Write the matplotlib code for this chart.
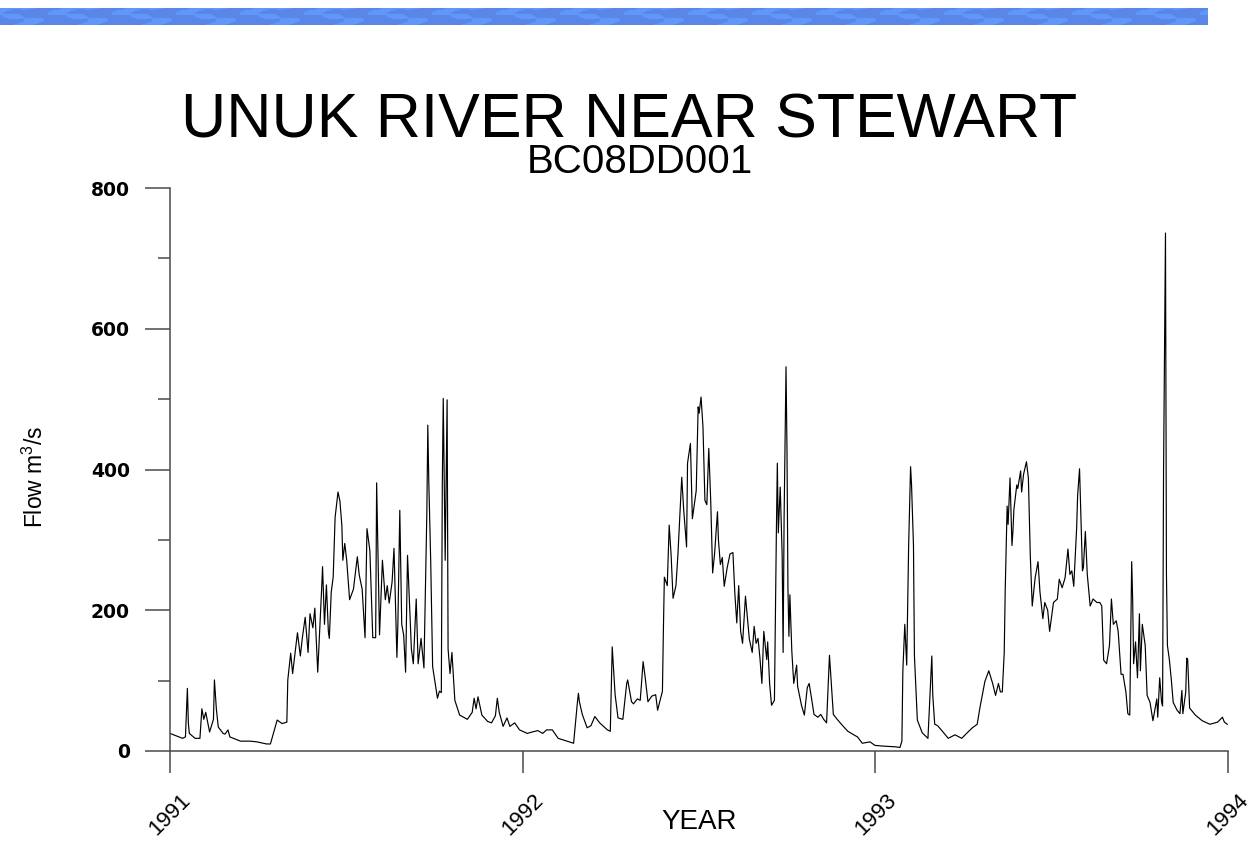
import numpy as np
import matplotlib
matplotlib.use("Agg")
import matplotlib.pyplot as plt
from matplotlib.ticker import FixedLocator, MultipleLocator

# Daily flow record, Unuk River near Stewart (BC08DD001).
# Days are counted from 1 January 1991; flows in m3/s.
days_1991 = [0, 13, 16, 18, 19, 20, 26, 31, 33, 35, 37, 41, 45, 46, 48, 50, 55, 57, 60, 62,
             73, 83, 90, 100, 104, 111, 116, 121, 122, 125, 127, 132, 135, 137, 140, 143,
             145, 148, 150, 153, 157, 158, 160, 162, 164, 165, 167, 169, 171, 174, 176,
             178, 179, 181, 183, 186, 190, 194, 196, 199, 202, 204, 207, 210, 213, 214,
             217, 220, 223, 225, 227, 230, 232, 235, 236, 238, 240, 242, 244, 246, 250,
             252, 255, 257, 260, 263, 266, 267, 268, 270, 272, 277, 279, 281, 282, 283,
             285, 287, 288, 290, 292, 295, 300, 308, 313, 315, 317, 319, 323, 329, 333,
             337, 339, 341, 345, 349, 352, 357, 362]
flow_1991 = [25, 18, 20, 89, 40, 25, 18, 18, 60, 45, 55, 27, 45, 101, 60, 34, 25, 24, 30, 20,
             14, 14, 13, 10, 10, 44, 39, 41, 101, 139, 110, 168, 135, 160, 190, 140,
             195, 175, 203, 112, 229, 262, 180, 236, 170, 160, 226, 247, 332, 368, 355,
             320, 271, 295, 271, 215, 230, 276, 250, 230, 161, 316, 285, 161, 161, 381,
             165, 271, 215, 235, 210, 240, 288, 133, 180, 342, 180, 165, 112, 278, 145,
             124, 216, 124, 160, 118, 338, 463, 385, 270, 120, 75, 85, 83, 375, 501,
             271, 499, 145, 110, 140, 72, 51, 45, 55, 75, 60, 77, 51, 42, 40,
             50, 75, 55, 35, 47, 35, 40, 30]

days_1992 = [370, 375, 381, 386, 390, 396, 402, 409, 418, 422, 423, 424, 427, 432, 436, 440,
             445, 453, 456, 458, 459, 461, 464, 469, 473, 474, 478, 480, 484, 487, 490,
             492, 495, 499, 503, 505, 510, 511, 512, 515, 517, 519, 521, 524, 526, 529,
             530, 532, 535, 536, 539, 541, 543, 545, 547, 548, 550, 552, 554, 556, 558,
             560, 562, 564, 567, 568, 570, 572, 574, 577, 580, 583, 585, 587, 589, 591,
             593, 596, 598, 600, 603, 605, 607, 609, 611, 613, 615, 618, 619, 621, 623,
             626, 628, 629, 630, 632, 634, 635, 636, 638, 639, 640, 641, 642, 644, 646,
             649, 650, 654, 657, 660, 662, 665, 667, 671, 674, 677, 680, 683, 685, 687,
             691, 696, 702, 712, 717, 725, 730]
flow_1992 = [25, 27, 29, 25, 30, 30, 18, 15, 11, 70, 82, 70, 52, 33, 36, 49,
             40, 30, 28, 148, 125, 80, 47, 45, 96, 101, 70, 67, 74, 72, 127,
             106, 70, 78, 80, 58, 85, 172, 247, 235, 321, 278, 217, 235, 278, 361,
             389, 343, 290, 409, 437, 330, 350, 370, 489, 480, 503, 460, 356, 350, 430,
             356, 253, 280, 340, 300, 265, 275, 234, 260, 280, 282, 224, 182, 235, 170,
             153, 220, 190, 159, 140, 177, 153, 160, 132, 96, 170, 130, 155, 96, 65,
             72, 310, 409, 310, 375, 278, 140, 330, 546, 428, 230, 163, 222, 142, 96,
             122, 92, 65, 51, 90, 96, 70, 52, 48, 52, 45, 40, 136, 95, 52,
             45, 37, 28, 20, 11, 13, 8]

days_1993 = [738, 751, 756, 758, 759, 761, 763, 765, 767, 768, 770, 771, 774, 779, 785, 789,
             790, 792, 795, 800, 806, 813, 820, 825, 831, 836, 839, 844, 848, 852, 855,
             858, 860, 862, 864, 865, 867, 868, 870, 872, 873, 874, 877, 878, 881, 882,
             884, 887, 889, 891, 893, 896, 899, 901, 904, 906, 909, 911, 915, 919, 921,
             924, 927, 930, 932, 934, 936, 939, 940, 942, 945, 946, 948, 950, 953, 956,
             960, 963, 965, 967, 970, 973, 975, 977, 980, 982, 985, 987, 990, 992, 994,
             996, 997, 998, 1000, 1002, 1004, 1005, 1007, 1008, 1010, 1012, 1015, 1018,
             1022, 1023, 1025, 1027, 1028, 1029, 1031, 1032, 1033, 1035, 1037, 1039,
             1043, 1046, 1048, 1049, 1052, 1053, 1054, 1056, 1062, 1069, 1077, 1085,
             1090, 1092, 1095]
flow_1993 = [7, 6, 5, 14, 114, 180, 122, 292, 404, 378, 292, 135, 44, 26, 18, 135,
             79, 38, 36, 28, 18, 23, 18, 25, 33, 38, 63, 99, 114, 96, 79,
             96, 84, 84, 140, 228, 348, 322, 388, 292, 312, 343, 378, 373, 398, 368,
             393, 411, 388, 277, 206, 246, 269, 226, 188, 211, 200, 170, 211, 216, 244,
             232, 246, 287, 251, 256, 234, 317, 363, 401, 256, 261, 312, 251, 206, 216,
             211, 211, 206, 129, 124, 150, 216, 180, 185, 170, 109, 109, 84, 53, 51,
             269, 216, 124, 155, 104, 195, 114, 180, 170, 150, 79, 69, 43,
             74, 48, 104, 69, 64, 398, 736, 251, 150, 130, 102, 69,
             58, 53, 86, 53, 84, 132, 130, 61, 51, 43, 38, 41,
             48, 41, 38]

year_ticks = [1991, 1992, 1993, 1994]
year_labels = ["1991", "1992", "1993", "1994"]
flow_ticks = [0, 200, 400, 600, 800]

title_text = "UNUK RIVER NEAR STEWART"
station_text = "BC08DD001"

plt.rcParams["mathtext.fontset"] = "custom"
plt.rcParams["mathtext.rm"] = "Liberation Sans"
plt.rcParams["mathtext.it"] = "Liberation Sans:italic"

W, H = 1259, 861
fig = plt.figure(figsize=(W / 100, H / 100), dpi=100)
fig.patch.set_facecolor("white")

# decorative blue banner along the top edge
band = fig.add_axes([0, 1 - 25 / H, 1208 / W, 17 / H])
yy, xx = np.mgrid[0:17, 0:1208]
wave = np.sin(2 * np.pi * xx / 64.0 + 1.8 * np.sin(2 * np.pi * yy / 17.0)) \
    + 0.6 * np.cos(2 * np.pi * (xx + 2.5 * yy) / 32.0)
dark = np.array([0x5a, 0x86, 0xe8]) / 255.0
light = np.array([0x5f, 0x97, 0xfb]) / 255.0
mask = (wave > 0.35)[..., None]
band.imshow(np.where(mask, light, dark), aspect="auto", interpolation="nearest")
band.axis("off")

fig.text(0.5, 1 - 137 / H, title_text, ha="center", va="baseline",
         fontsize=45, family="Liberation Sans")
fig.text(640 / W, 1 - 173 / H, station_text, ha="center", va="baseline",
         fontsize=29, family="Liberation Sans")

ax = fig.add_axes([170 / W, 1 - 751 / H, 1058 / W, 563 / H])
days = np.array(days_1991 + days_1992 + days_1993, dtype=float)
flow = np.array(flow_1991 + flow_1992 + flow_1993, dtype=float)
years = 1991 + days / 365.25
ax.plot(years, flow, color="black", lw=0.85)

ax.set_xlim(1991, 1994)
ax.set_ylim(0, 800)
for side in ("top", "right"):
    ax.spines[side].set_visible(False)
for side in ("left", "bottom"):
    ax.spines[side].set_color("#4a4a4a")
    ax.spines[side].set_linewidth(1.1)

ax.yaxis.set_major_locator(FixedLocator(flow_ticks))
ax.yaxis.set_minor_locator(MultipleLocator(100))
ax.set_yticklabels([str(v) for v in flow_ticks], fontsize=13.5,
                   family="DejaVu Sans", fontweight="bold")
ax.tick_params(axis="y", which="major", direction="out", length=18, width=1.1,
               color="#4a4a4a", pad=11)
ax.tick_params(axis="y", which="minor", direction="out", length=8.5, width=1.1,
               color="#4a4a4a")

ax.xaxis.set_major_locator(FixedLocator(year_ticks))
ax.set_xticklabels(year_labels, rotation=45, ha="center", fontsize=16,
                   family="Liberation Sans")
ax.tick_params(axis="x", which="major", direction="out", length=16, width=1.1,
               color="#4a4a4a", pad=12)

ax.set_ylabel(r"Flow m$^{\mathregular{3}}$/s", fontsize=16.5, family="Liberation Sans")
ax.yaxis.set_label_coords(-0.115, 0.487)
fig.text(699 / W, 1 - 822 / H, "YEAR", ha="center", va="center",
         fontsize=20, family="Liberation Sans")

fig.savefig("out.png", dpi=100, facecolor="white")
